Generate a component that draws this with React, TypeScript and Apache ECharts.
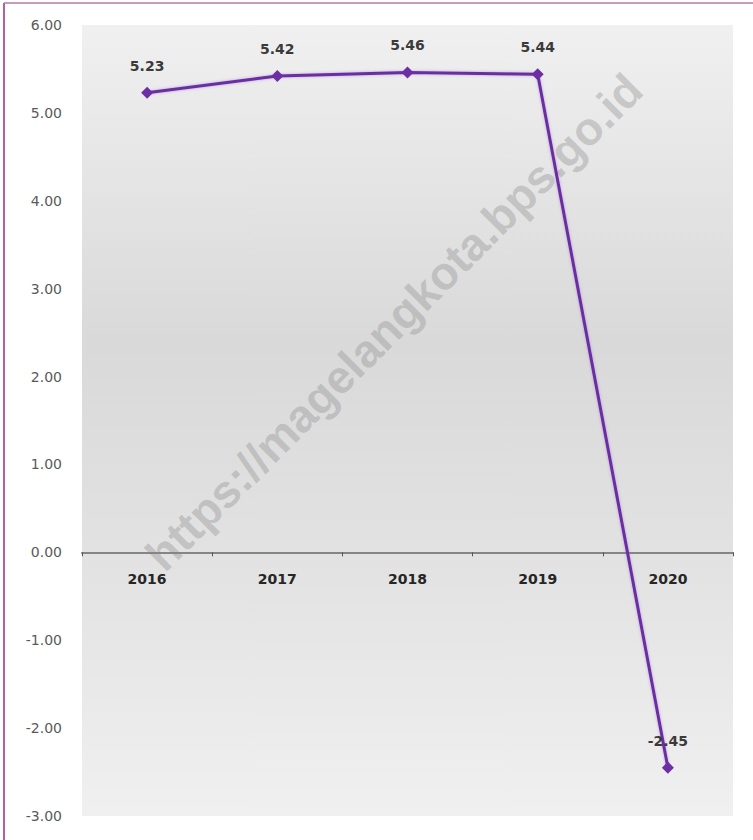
import React, { useEffect, useRef } from "react";
import * as echarts from "echarts";

const categories = ["2016", "2017", "2018", "2019", "2020"];
const values = [5.23, 5.42, 5.46, 5.44, -2.45];
const yMin = -3;
const yMax = 6;
const yInterval = 1;
const watermark = "https://magelangkota.bps.go.id";

export default function App() {
  const ref = useRef<HTMLDivElement>(null);
  useEffect(() => {
    if (!ref.current) return;
    const chart = echarts.init(ref.current, null, { renderer: "svg" });
    chart.setOption({
      animation: false,
      backgroundColor: "#ffffff",
      grid: {
        left: 82,
        right: 20,
        top: 25,
        bottom: 24,
        outerBoundsMode: "none",
        containLabel: false,
        show: true,
        borderWidth: 0,
        backgroundColor: new echarts.graphic.LinearGradient(0, 0, 0, 1, [
          { offset: 0, color: "#f0f0f0" },
          { offset: 0.4, color: "#d9d9d9" },
          { offset: 0.7, color: "#e3e3e3" },
          { offset: 1, color: "#f0f0f0" },
        ]),
      },
      xAxis: {
        type: "category",
        data: categories,
        boundaryGap: true,
        axisLine: { onZero: true, lineStyle: { color: "#858585", width: 2 } },
        axisTick: { show: true, length: 4, lineStyle: { color: "#555555", width: 1 } },
        axisLabel: { show: false },
        splitLine: { show: false },
        z: 3,
      },
      yAxis: {
        type: "value",
        min: yMin,
        max: yMax,
        interval: yInterval,
        axisLine: { show: false },
        axisTick: { show: false },
        splitLine: { show: false },
        axisLabel: {
          margin: 20,
          fontFamily: "DejaVu Sans",
          fontSize: 14,
          color: "#5a5a5a",
          formatter: (v: number) => v.toFixed(2),
        },
      },
      graphic: [
        {
          type: "text",
          x: 394,
          y: 322,
          rotation: Math.PI / 4,
          z: 1,
          silent: true,
          style: {
            text: watermark,
            fill: "rgba(150,150,150,0.42)",
            font: "bold 46px 'Liberation Sans', Arial, sans-serif",
            textAlign: "center",
            textVerticalAlign: "middle",
          },
        },
        {
          type: "line",
          z: 10,
          shape: { x1: 4, y1: 3, x2: 4, y2: 840 },
          style: { stroke: "#942e7e", lineWidth: 1.5 },
        },
        {
          type: "line",
          z: 10,
          shape: { x1: 4, y1: 3, x2: 753, y2: 3 },
          style: { stroke: "#b37aa4", lineWidth: 1.5 },
        },
      ],
      series: [
        {
          type: "scatter",
          data: categories.map((c) => [c, 0]),
          symbolSize: 0,
          silent: true,
          z: 4,
          label: {
            show: true,
            position: "bottom",
            distance: 20,
            fontFamily: "DejaVu Sans",
            fontWeight: "bold",
            fontSize: 14,
            color: "#262626",
            opacity: 1,
            formatter: (p: any) => p.value[0],
          },
        },
        {
          type: "line",
          data: values,
          z: 5,
          symbol: "diamond",
          symbolSize: 12,
          lineStyle: { color: "#6b2fa3", width: 3, shadowColor: "rgba(150,90,200,0.5)", shadowBlur: 3 },
          itemStyle: { color: "#6b2fa3" },
          label: {
            show: true,
            position: "top",
            distance: 14,
            fontFamily: "DejaVu Sans",
            fontWeight: "bold",
            fontSize: 14,
            color: "#3a3a3a",
            formatter: (p: any) => Number(p.value).toFixed(2),
          },
        },
      ],
    });
    return () => chart.dispose();
  }, []);
  return (
    <div
      ref={ref}
      style={{ position: "absolute", left: 0, top: 0, width: 753, height: 840 }}
    />
  );
}
